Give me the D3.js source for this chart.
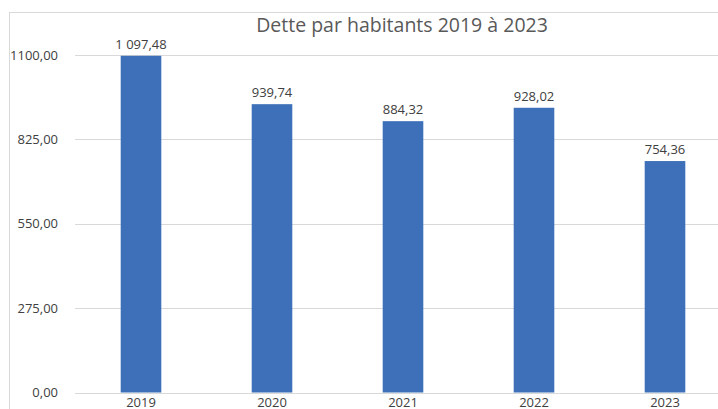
<!DOCTYPE html>
<html>
<head>
<meta charset="utf-8">
<script src="https://cdn.jsdelivr.net/npm/d3@7"></script>
<style>
  body { margin: 0; background: #fff; }
  svg { display: block; font-family: "Open Sans", "Noto Sans", sans-serif; }
</style>
</head>
<body>
<svg id="chart" width="718" height="409"></svg>
<script>
const years = ["2019", "2020", "2021", "2022", "2023"];
const dette = [1097.48, 939.74, 884.32, 928.02, 754.36];
const yTicks = [0, 275, 550, 825, 1100];
const titre = "Dette par habitants 2019 à 2023";

const fr = d3.formatLocale({ decimal: ",", thousands: " ", grouping: [3], currency: ["", " €"] });
const fmtValue = fr.format(",.2f");
const fmtTick = fr.format(".2f");

const svg = d3.select("#chart");

// cadre du graphique
svg.append("rect")
  .attr("x", 9.5).attr("y", 12.5)
  .attr("width", 760).attr("height", 420)
  .attr("fill", "none")
  .attr("stroke", "#d9d9d9");

let x = d3.scaleBand().domain(years).range([75.5, 730.5]).paddingInner(0.69).paddingOuter(0.345);
let y = d3.scaleLinear().domain([0, 1100]).range([392.5, 55]);

// grille
svg.append("g")
  .selectAll("line")
  .data(yTicks)
  .join("line")
  .attr("x1", 75).attr("x2", 718)
  .attr("y1", d => Math.round(y(d)) + 0.5)
  .attr("y2", d => Math.round(y(d)) + 0.5)
  .attr("stroke", "#d9d9d9")
  .attr("stroke-width", 1.2);

// axe Y
let yAxis = d3.axisLeft(y).tickValues(yTicks).tickFormat(fmtTick).tickSize(0).tickPadding(0);
svg.append("g")
  .attr("transform", "translate(58,0)")
  .call(yAxis)
  .call(g => g.select(".domain").remove())
  .call(g => g.selectAll("text")
    .attr("fill", "#404040")
    .style("font-size", "13px")
    .style("font-family", "'Open Sans', sans-serif"));

// axe X
let xAxis = d3.axisBottom(x).tickSize(0).tickPadding(0);
svg.append("g")
  .attr("transform", "translate(0,398)")
  .call(xAxis)
  .call(g => g.select(".domain").remove())
  .call(g => g.selectAll("text")
    .attr("fill", "#404040")
    .style("font-size", "13px")
    .style("font-family", "'Open Sans', sans-serif"));

// barres
svg.append("g")
  .selectAll("rect")
  .data(dette)
  .join("rect")
  .attr("x", (d, i) => x(years[i]))
  .attr("y", d => y(d))
  .attr("width", x.bandwidth())
  .attr("height", d => y(0) - y(d))
  .attr("fill", "#3d70b8");

// etiquettes de valeur
svg.append("g")
  .selectAll("text")
  .data(dette)
  .join("text")
  .attr("x", (d, i) => x(years[i]) + x.bandwidth() / 2)
  .attr("y", d => y(d) - 7)
  .attr("text-anchor", "middle")
  .attr("fill", "#404040")
  .style("font-size", "13px")
  .text(d => fmtValue(d));

// titre
svg.append("text")
  .attr("x", 402)
  .attr("y", 32)
  .attr("text-anchor", "middle")
  .attr("fill", "#595959")
  .style("font-size", "19.5px")
  .text(titre);
</script>
</body>
</html>
